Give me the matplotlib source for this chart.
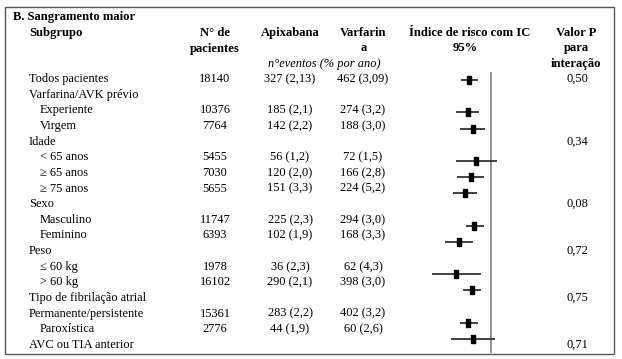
import numpy as np
import matplotlib
matplotlib.use("Agg")
import matplotlib.pyplot as plt

# ---------------- data ----------------
subgroups = ["Todos pacientes", "Varfarina/AVK prévio", "Experiente", "Virgem",
             "Idade", "< 65 anos", "\u2265 65 anos", "\u2265 75 anos",
             "Sexo", "Masculino", "Feminino",
             "Peso", "\u2264 60 kg", "> 60 kg",
             "Tipo de fibrilação atrial", "Permanente/persistente", "Paroxística",
             "AVC ou TIA anterior"]
indent = [0, 0, 1, 1, 0, 1, 1, 1, 0, 1, 1, 0, 1, 1, 0, 0, 1, 0]
n_patients = ["18140", "", "10376", "7764", "", "5455", "7030", "5655", "",
              "11747", "6393", "", "1978", "16102", "", "15361", "2776", ""]
apixaban = ["327 (2,13)", "", "185 (2,1)", "142 (2,2)", "", "56 (1,2)", "120 (2,0)",
            "151 (3,3)", "", "225 (2,3)", "102 (1,9)", "", "36 (2,3)", "290 (2,1)",
            "", "283 (2,2)", "44 (1,9)", ""]
warfarin = ["462 (3,09)", "", "274 (3,2)", "188 (3,0)", "", "72 (1,5)", "166 (2,8)",
            "224 (5,2)", "", "294 (3,0)", "168 (3,3)", "", "62 (4,3)", "398 (3,0)",
            "", "402 (3,2)", "60 (2,6)", ""]
hr = [0.69, None, 0.67, 0.73, None, 0.78, 0.71, 0.64, None, 0.75, 0.58, None,
      0.55, 0.72, None, 0.68, 0.73, None]
hr_lo = [0.60, None, 0.55, 0.59, None, 0.55, 0.56, 0.52, None, 0.65, 0.45, None,
         0.36, 0.62, None, 0.59, 0.50, None]
hr_hi = [0.80, None, 0.82, 0.91, None, 1.12, 0.89, 0.79, None, 0.90, 0.74, None,
         0.84, 0.84, None, 0.80, 1.08, None]
p_interaction = ["0,50", "", "", "", "0,34", "", "", "", "0,08", "", "", "0,72",
                 "", "", "0,75", "", "", "0,71"]

W, H = 622, 359
fig = plt.figure(figsize=(W / 100, H / 100), dpi=100)
plt.rcParams['font.family'] = ['Liberation Serif', 'DejaVu Serif']

# text layer in pixel coordinates
ax = fig.add_axes([0, 0, 1, 1])
ax.set_xlim(0, W)
ax.set_ylim(H, 0)
ax.axis("off")

fs = 8.9
bfs = 9.1

# border box
ax.add_patch(plt.Rectangle((5, 7), 608.5, 346.5, fill=False, edgecolor="#555555",
                           linewidth=1.0))

ax.text(13, 17, "B. Sangramento maior", fontsize=bfs, fontweight="bold", va="center")
ax.text(29, 33, "Subgrupo", fontsize=bfs, fontweight="bold", va="center")
ax.text(215, 33, "N° de", fontsize=bfs, fontweight="bold", va="center", ha="center")
ax.text(215, 49, "pacientes", fontsize=bfs, fontweight="bold", va="center", ha="center")
ax.text(290, 33, "Apixabana", fontsize=bfs, fontweight="bold", va="center", ha="center")
ax.text(363, 33, "Varfarin", fontsize=bfs, fontweight="bold", va="center", ha="center")
ax.text(364, 48, "a", fontsize=bfs, fontweight="bold", va="center", ha="center")
ax.text(469.5, 33, "Índice de risco com IC", fontsize=bfs, fontweight="bold",
        va="center", ha="center")
ax.text(465, 48, "95%", fontsize=bfs, fontweight="bold", va="center", ha="center")
ax.text(576, 33, "Valor P", fontsize=bfs, fontweight="bold", va="center", ha="center")
ax.text(576, 48, "para", fontsize=bfs, fontweight="bold", va="center", ha="center")
ax.text(576, 64, "interação", fontsize=bfs, fontweight="bold", va="center", ha="center")
ax.text(324, 64, "n°eventos (% por ano)", fontsize=fs, style="italic",
        va="center", ha="center")

y0, dy = 79, 15.65
for i, name in enumerate(subgroups):
    y = y0 + dy * i
    ax.text(29 + 11 * indent[i], y, name, fontsize=fs, va="center")
    ax.text(215, y, n_patients[i], fontsize=fs, va="center", ha="center")
    ax.text(290, y, apixaban[i], fontsize=fs, va="center", ha="center")
    ax.text(363, y, warfarin[i], fontsize=fs, va="center", ha="center")
    ax.text(577, y, p_interaction[i], fontsize=fs, va="center", ha="center")

# forest layer: log scale, px = 490.5 + 57.1*ln(HR)
k = 57.1
xl_px, xr_px = 400, 540
yt_px, yb_px = 60, 355
m0, mdy = 80, 16.19
fax = fig.add_axes([xl_px / W, 1 - yb_px / H, (xr_px - xl_px) / W, (yb_px - yt_px) / H])
fax.set_xscale("log")
fax.set_xlim(np.exp((xl_px - 490.5) / k), np.exp((xr_px - 490.5) / k))
fax.set_ylim((yb_px - m0) / mdy, (yt_px - m0) / mdy)
fax.axis("off")
fax.patch.set_alpha(0)

fax.vlines(1.0, (72 - m0) / mdy, (353 - m0) / mdy, color="#808080", linewidth=1.2)
rect = [(-1, -2), (1, -2), (1, 2), (-1, 2), (-1, -2)]
for i in range(len(subgroups)):
    if hr[i] is None:
        continue
    fax.plot([hr_lo[i], hr_hi[i]], [i, i], color="#333333", linewidth=1.3,
             solid_capstyle="butt")
    fax.plot([hr[i]], [i], marker=rect, markersize=6, color="black", linestyle="none")

fig.savefig("out.png", dpi=100)
